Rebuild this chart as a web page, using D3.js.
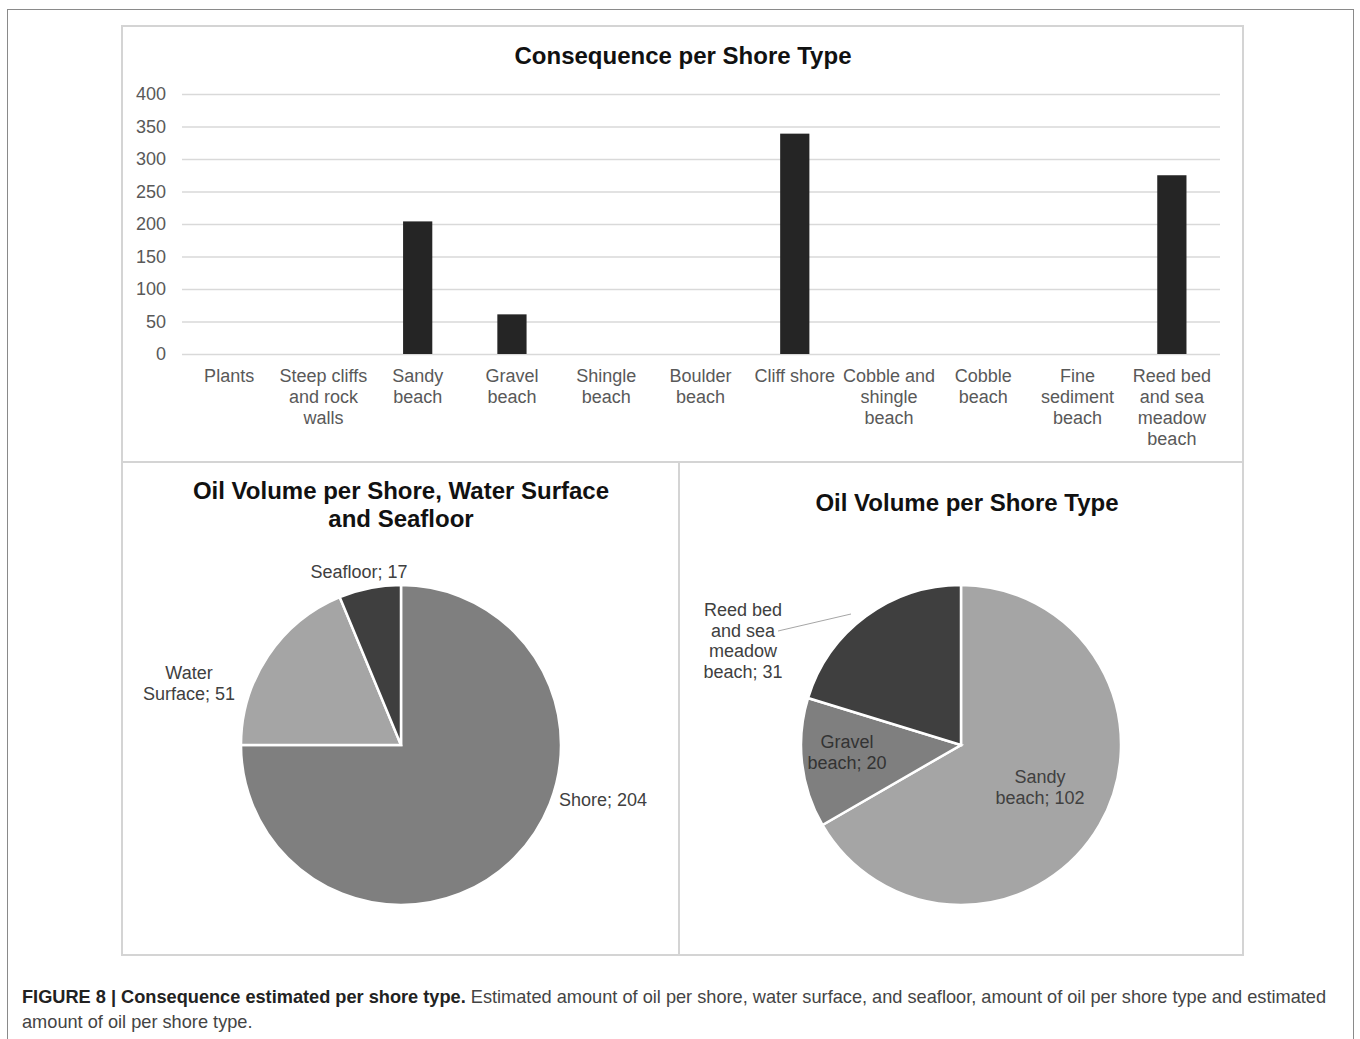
<!DOCTYPE html>
<html>
<head>
<meta charset="utf-8">
<script src="https://cdn.jsdelivr.net/npm/d3@7"></script>
<style>
  html, body { margin: 0; padding: 0; background: #fff; }
  svg { display: block; font-family: Arial, "Liberation Sans", sans-serif; }
</style>
</head>
<body>
<svg id="fig" width="1360" height="1039"></svg>
<script>
// Consequence per shore type (bar chart)
const shoreTypes = [
  ["Plants"],
  ["Steep cliffs", "and rock", "walls"],
  ["Sandy", "beach"],
  ["Gravel", "beach"],
  ["Shingle", "beach"],
  ["Boulder", "beach"],
  ["Cliff shore"],
  ["Cobble and", "shingle", "beach"],
  ["Cobble", "beach"],
  ["Fine", "sediment", "beach"],
  ["Reed bed", "and sea", "meadow", "beach"]
];
const consequence = [0, 0, 204, 61, 0, 0, 339, 0, 0, 0, 275];
const yTicks = [0, 50, 100, 150, 200, 250, 300, 350, 400];

// Oil volume per shore, water surface and seafloor
const zoneNames = ["Shore", "Water Surface", "Seafloor"];
const zoneVolumes = [204, 51, 17];
const zoneColors = ["#7f7f7f", "#a5a5a5", "#3f3f3f"];

// Oil volume per shore type
const typeNames = ["Sandy beach", "Gravel beach", "Reed bed and sea meadow beach"];
const typeVolumes = [102, 20, 31];
const typeColors = ["#a5a5a5", "#7f7f7f", "#3f3f3f"];

const svg = d3.select("#fig");
const titleSize = 24;
const labelSize = 18;

// Outer figure frame
svg.append("rect").attr("x", 7.5).attr("y", 9.5).attr("width", 1346).attr("height", 1040)
  .attr("fill", "none").attr("stroke", "#8a8a8a").attr("stroke-width", 1);

// Panel frames
const panelStroke = "#d4d4d4";
[[122, 26, 1121, 436], [122, 462, 557, 493], [679, 462, 564, 493]].forEach(p => {
  svg.append("rect").attr("x", p[0]).attr("y", p[1]).attr("width", p[2]).attr("height", p[3])
    .attr("fill", "none").attr("stroke", panelStroke).attr("stroke-width", 2);
});

// ---- Bar chart ----
const bar = svg.append("g");
bar.append("text").attr("x", 683).attr("y", 64).attr("text-anchor", "middle")
  .attr("font-size", titleSize).attr("font-weight", "bold").attr("fill", "#111")
  .text("Consequence per Shore Type");

const x = d3.scaleBand().domain(d3.range(shoreTypes.length)).range([182, 1219]).padding(0);
const y = d3.scaleLinear().domain([0, 400]).range([354, 94]);

const yAxis = d3.axisLeft(y).tickValues(yTicks).tickSize(-(1220 - 182)).tickPadding(16);
const yg = bar.append("g").attr("transform", "translate(182,0)").call(yAxis);
yg.select(".domain").remove();
yg.selectAll(".tick line").attr("stroke", "#d9d9d9").attr("stroke-width", 1.5);
yg.selectAll(".tick text").attr("font-size", labelSize).attr("fill", "#595959")
  .attr("font-family", "Arial, 'Liberation Sans', sans-serif");

const barFrac = 0.31;
bar.selectAll("rect.bar").data(consequence).join("rect").attr("class", "bar")
  .attr("x", (d, i) => x(i) + x.bandwidth() * (1 - barFrac) / 2)
  .attr("width", x.bandwidth() * barFrac)
  .attr("y", d => y(d))
  .attr("height", d => y(0) - y(d))
  .attr("fill", "#252525");

const xl = bar.selectAll("text.cat").data(shoreTypes).join("text").attr("class", "cat")
  .attr("text-anchor", "middle").attr("font-size", labelSize).attr("fill", "#595959")
  .attr("transform", (d, i) => `translate(${x(i) + x.bandwidth() / 2},382)`);
xl.selectAll("tspan").data(d => d).join("tspan")
  .attr("x", 0).attr("dy", (d, i) => i === 0 ? 0 : 21).text(d => d);

// ---- Pie helpers ----
const pie = d3.pie().sort(null).value(d => d);
function drawPie(values, colors, cx, cy, r) {
  const arc = d3.arc().innerRadius(0).outerRadius(r);
  const g = svg.append("g").attr("transform", `translate(${cx},${cy})`);
  g.selectAll("path").data(pie(values)).join("path")
    .attr("d", arc).attr("fill", (d, i) => colors[i])
    .attr("stroke", "#fff").attr("stroke-width", 2.5).attr("stroke-linejoin", "miter");
  return g;
}
function label(lines, cx, cy, anchor, color) {
  const t = svg.append("text").attr("text-anchor", anchor || "middle")
    .attr("font-size", labelSize).attr("fill", color || "#404040");
  lines.forEach((s, i) => t.append("tspan").attr("x", cx).attr("y", cy + i * 20.5).text(s));
}

// ---- Left pie ----
svg.append("text").attr("text-anchor", "middle").attr("font-size", titleSize).attr("font-weight", "bold").attr("fill", "#111")
  .selectAll("tspan").data(["Oil Volume per Shore, Water Surface", "and Seafloor"]).join("tspan")
  .attr("x", 401).attr("y", (d, i) => 499 + i * 28).text(d => d);
drawPie(zoneVolumes, zoneColors, 401, 745, 160);
label([zoneNames[2] + "; " + zoneVolumes[2]], 359, 578);
label(["Water", zoneNames[1].split(" ")[1] + "; " + zoneVolumes[1]], 189, 679);
label([zoneNames[0] + "; " + zoneVolumes[0]], 603, 806);

// ---- Right pie ----
svg.append("text").attr("x", 967).attr("y", 511).attr("text-anchor", "middle")
  .attr("font-size", titleSize).attr("font-weight", "bold").attr("fill", "#111")
  .text("Oil Volume per Shore Type");
drawPie(typeVolumes, typeColors, 961, 745, 160);
svg.append("line").attr("x1", 778).attr("y1", 631).attr("x2", 851).attr("y2", 614)
  .attr("stroke", "#a6a6a6").attr("stroke-width", 1);
label(["Reed bed", "and sea", "meadow", "beach; " + typeVolumes[2]], 743, 616);
label(["Gravel", "beach; " + typeVolumes[1]], 847, 748, "middle", "#333");
label(["Sandy", "beach; " + typeVolumes[0]], 1040, 783);

// ---- Caption ----
const cap = svg.append("text").attr("x", 22).attr("y", 1003).attr("font-size", 18.2).attr("fill", "#444");
cap.append("tspan").attr("font-weight", "bold").attr("fill", "#222")
  .text("FIGURE 8 | Consequence estimated per shore type.");
cap.append("tspan").text(" Estimated amount of oil per shore, water surface, and seafloor, amount of oil per shore type and estimated");
svg.append("text").attr("x", 22).attr("y", 1028).attr("font-size", 18.2).attr("fill", "#444")
  .text("amount of oil per shore type.");
</script>
</body>
</html>
